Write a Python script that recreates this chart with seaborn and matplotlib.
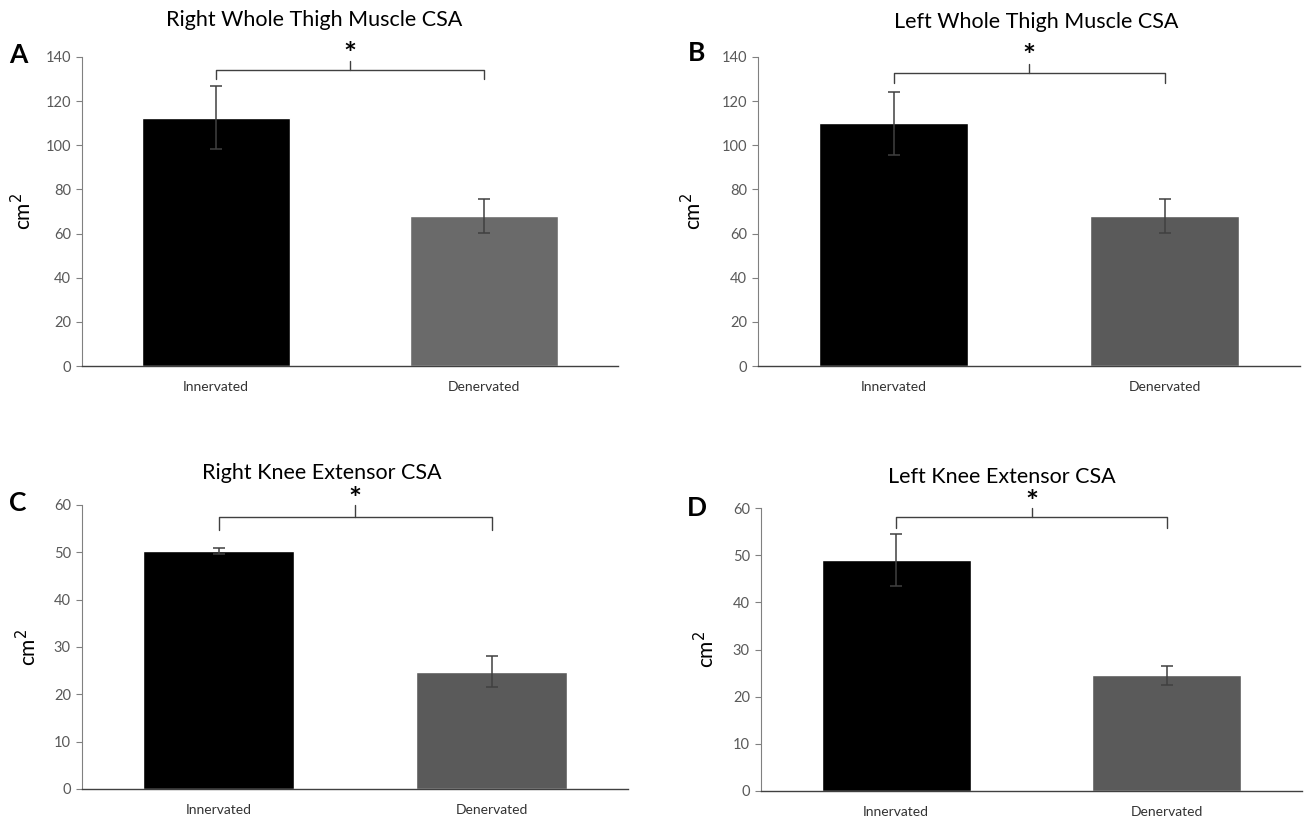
import matplotlib
matplotlib.use("Agg")
import matplotlib.pyplot as plt
import seaborn as sns
import pandas as pd

sns.set_theme(style="white")
plt.rcParams['font.family'] = ['Lato', 'DejaVu Sans']

categories = ["Innervated", "Denervated"]

titles = ["Right Whole Thigh Muscle CSA", "Left Whole Thigh Muscle CSA",
          "Right Knee Extensor CSA", "Left Knee Extensor CSA"]
letters = ["A", "B", "C", "D"]

means_a = [112.5, 68.0]
errs_a = [14.3, 7.7]
means_b = [110.0, 68.0]
errs_b = [14.2, 7.6]
means_c = [50.3, 24.8]
errs_c = [0.7, 3.3]
means_d = [49.0, 24.5]
errs_d = [5.5, 2.0]

ymax = [140, 140, 60, 60]
ystep = [20, 20, 10, 10]
bar_colors = [["#000000", "#6a6a6a"], ["#000000", "#5a5a5a"],
              ["#000000", "#5a5a5a"], ["#000000", "#5a5a5a"]]
# bracket: (horizontal y, end-drop y, center tick y, asterisk y)
brackets = [(134, 130, 138, 141.0), (132.8, 128.3, 136.8, 140.0),
            (57.5, 54.8, 60.0, 61.0), (58.1, 55.8, 60.0, 61.0)]

W, H = 1304, 817
fig = plt.figure(figsize=(W / 100, H / 100), dpi=100)

# axes rectangles in pixels: left, right, top(ymax), bottom(0)
rects = [(82, 618, 57, 366), (758, 1300, 57, 366),
         (82, 628, 505, 789), (761, 1302, 508, 791)]
title_pos = [(314, 20), (1036, 22), (322, 473), (1002, 477)]
letter_pos = [(18, 55), (697, 53), (18, 503), (697, 508)]
ylabel_x = [-0.088, -0.098, -0.077, -0.079]

all_means = [means_a, means_b, means_c, means_d]
all_errs = [errs_a, errs_b, errs_c, errs_d]

for i in range(4):
    l, r, t, b = rects[i]
    ax = fig.add_axes([l / W, 1 - b / H, (r - l) / W, (b - t) / H])
    df = pd.DataFrame({"group": categories, "value": all_means[i]})
    sns.barplot(data=df, x="group", y="value", hue="group",
                palette=bar_colors[i], width=0.55, ax=ax, legend=False,
                saturation=1, errorbar=None)
    ax.errorbar(categories, all_means[i], yerr=all_errs[i], fmt="none",
                ecolor="#404040", elinewidth=1.1, capsize=4, capthick=1.1)
    ax.set_xlim(-0.5, 1.5)
    ax.set_ylim(0, ymax[i])
    ax.set_yticks(range(0, ymax[i] + 1, ystep[i]))
    ax.set_xlabel("")
    ax.set_ylabel("cm$^2$", fontsize=15, color="black")
    ax.yaxis.set_label_coords(ylabel_x[i], 0.5)
    ax.tick_params(axis="y", left=True, length=4, width=0.8, color="#808080",
                   labelsize=10.5, labelcolor="#595959", pad=4)
    ax.tick_params(axis="x", bottom=False, labelsize=10, labelcolor="#333333", pad=5)
    for s in ["top", "right"]:
        ax.spines[s].set_visible(False)
    ax.spines["left"].set_color("#808080")
    ax.spines["left"].set_linewidth(0.8)
    ax.spines["bottom"].set_color("#404040")
    ax.spines["bottom"].set_linewidth(1.0)

    hy, ey, cy, sy = brackets[i]
    ax.plot([0, 0, 1, 1], [ey, hy, hy, ey], color="#404040", lw=1, clip_on=False)
    ax.plot([0.5, 0.5], [hy, cy], color="#404040", lw=1, clip_on=False)
    ax.text(0.5, sy, "*", ha="center", va="center", fontsize=22,
            fontweight="bold", color="black", clip_on=False)

    tx, ty = title_pos[i]
    fig.text(tx / W, 1 - ty / H, titles[i], ha="center", va="center",
             fontsize=15.5, color="black")
    lx, ly = letter_pos[i]
    fig.text(lx / W, 1 - ly / H, letters[i], ha="center", va="center",
             fontsize=19, fontweight="bold", color="black")

fig.savefig("out.png", dpi=100)
